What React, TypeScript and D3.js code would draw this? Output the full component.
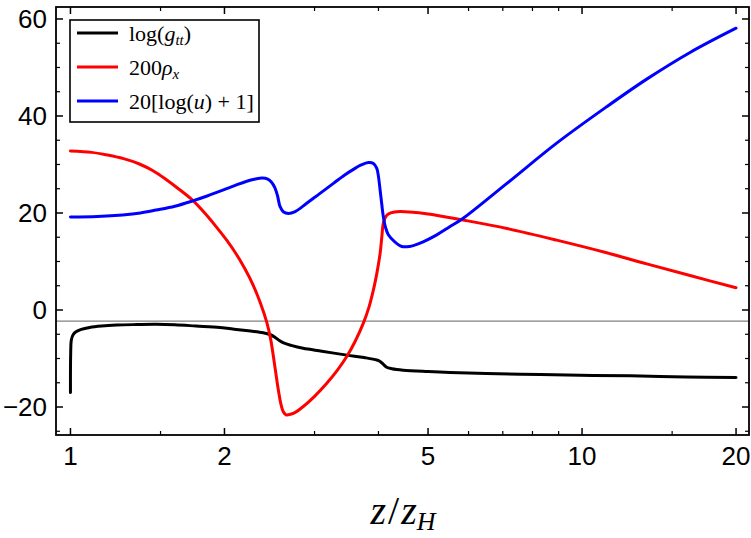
import React from "react";
import * as d3 from "d3";

// log(g_tt)
const gttZ = [1.0, 1.001, 1.004, 1.012, 1.025, 1.05, 1.09, 1.15, 1.23, 1.35, 1.47, 1.6, 1.76, 1.96, 2.11, 2.25, 2.38, 2.46, 2.51, 2.56, 2.61, 2.7, 2.85, 3.1, 3.47, 3.75, 3.97, 4.03, 4.09, 4.15, 4.25, 4.47, 5.0, 5.52, 6.5, 8.28, 10.5, 13, 16, 20];
const gttV = [-17.0, -9.0, -6.2, -5.1, -4.5, -4.0, -3.6, -3.3, -3.1, -3.0, -2.95, -3.05, -3.3, -3.6, -4.0, -4.35, -4.7, -5.1, -5.6, -6.3, -6.8, -7.3, -7.9, -8.5, -9.3, -9.8, -10.3, -10.6, -11.2, -11.8, -12.1, -12.4, -12.7, -12.9, -13.1, -13.3, -13.5, -13.6, -13.8, -13.9];

// 200 rho_x
const rhoZ = [1.0, 1.1, 1.174, 1.27, 1.364, 1.45, 1.538, 1.63, 1.734, 1.83, 1.926, 2.02, 2.107, 2.19, 2.272, 2.35, 2.419, 2.46, 2.493, 2.52, 2.549, 2.58, 2.607, 2.64, 2.667, 2.74, 2.852, 3.0, 3.17, 3.32, 3.468, 3.6, 3.737, 3.83, 3.909, 3.97, 4.03, 4.06, 4.089, 4.13, 4.182, 4.3, 4.41, 4.6, 5.0, 5.28, 5.82, 7.13, 8.92, 11.17, 13.38, 16.26, 20];
const rhoV = [32.8, 32.5, 32.0, 31.2, 30.1, 28.7, 26.9, 24.9, 22.6, 20.0, 17.2, 14.4, 11.6, 8.6, 5.3, 1.5, -2.5, -5.8, -9.6, -13.0, -16.5, -19.5, -21.0, -21.6, -21.6, -21.2, -19.9, -17.8, -15.1, -12.5, -9.6, -6.5, -2.7, 0.5, 4.1, 7.5, 11.7, 15.0, 17.9, 19.2, 19.8, 20.2, 20.3, 20.2, 19.8, 19.4, 18.6, 16.8, 14.4, 11.8, 9.5, 7.1, 4.6];

// 20[log(u)+1]
const uZ = [1.0, 1.13, 1.265, 1.37, 1.47, 1.6, 1.734, 1.85, 1.985, 2.1, 2.204, 2.3, 2.37, 2.43, 2.47, 2.51, 2.54, 2.569, 2.61, 2.667, 2.75, 2.896, 3.07, 3.266, 3.42, 3.573, 3.7, 3.823, 3.91, 3.97, 4.0, 4.03, 4.06, 4.089, 4.13, 4.182, 4.3, 4.442, 4.6, 4.825, 5.2, 5.52, 5.82, 7.13, 8.92, 11.17, 13.38, 16.26, 20];
const uV = [19.2, 19.3, 19.6, 20.0, 20.6, 21.4, 22.5, 23.5, 24.7, 25.7, 26.5, 27.0, 27.2, 27.0, 26.4, 25.2, 23.5, 21.3, 20.2, 19.9, 20.3, 22.0, 24.0, 26.1, 27.7, 29.0, 29.9, 30.4, 30.2, 29.2, 27.5, 24.7, 21.8, 19.2, 17.0, 15.5, 14.1, 13.1, 13.1, 13.8, 15.5, 17.2, 18.7, 26.1, 34.4, 41.9, 47.6, 53.1, 58.1];

const xMajor = [1, 2, 5, 10, 20];
const xMinor = [1.5, 3, 4, 6, 7, 8, 9, 15];
const yMajor = [-20, 0, 20, 40, 60];
const yMinor = [-25, -15, -10, -5, 5, 10, 15, 25, 30, 35, 45, 50, 55];
const refLine = -2.3;

const W = 751;
const H = 538;
const left = 56, right = 749, top = 7, bottom = 435;

const App: React.FC = () => {
  const x = d3.scaleLog().domain([0.937, 21.2]).range([left, right]);
  const y = d3.scaleLinear().domain([-25.77, 62.47]).range([bottom, top]);

  const line = d3
    .line<[number, number]>()
    .x((d) => x(d[0]))
    .y((d) => y(d[1]))
    .curve(d3.curveCatmullRom.alpha(0.5));

  const series = [
    { z: gttZ, v: gttV, color: "#000000" },
    { z: rhoZ, v: rhoV, color: "#ff0000" },
    { z: uZ, v: uV, color: "#0000ff" },
  ];

  const tickFont = "'Liberation Sans', Arial, sans-serif";
  const serif = "'Liberation Serif', 'Times New Roman', serif";

  return (
    <svg
      width={W}
      height={H}
      style={{ position: "absolute", left: 0, top: 0, background: "#fff" }}
    >
      <defs>
        <clipPath id="plot">
          <rect x={left} y={top} width={right - left} height={bottom - top} />
        </clipPath>
      </defs>

      {/* reference line */}
      <line x1={left} x2={right} y1={y(refLine)} y2={y(refLine)} stroke="#808080" strokeWidth={1.2} />

      {/* curves */}
      <g clipPath="url(#plot)">
        {series.map((s, i) => (
          <path
            key={i}
            d={line(s.z.map((z, j) => [z, s.v[j]] as [number, number])) || ""}
            fill="none"
            stroke={s.color}
            strokeWidth={3}
            strokeLinejoin="round"
            strokeLinecap="round"
          />
        ))}
      </g>

      {/* frame */}
      <rect x={left} y={top} width={right - left} height={bottom - top} fill="none" stroke="#000" strokeWidth={1.8} />

      {/* x ticks, bottom and top */}
      {xMajor.map((t) => (
        <g key={"xM" + t}>
          <line x1={x(t)} x2={x(t)} y1={bottom} y2={bottom - 7} stroke="#000" strokeWidth={1.5} />
          <line x1={x(t)} x2={x(t)} y1={top} y2={top + 7} stroke="#000" strokeWidth={1.5} />
          <text x={x(t)} y={465} textAnchor="middle" fontFamily={tickFont} fontSize={26}>
            {t}
          </text>
        </g>
      ))}
      {xMinor.map((t) => (
        <g key={"xm" + t}>
          <line x1={x(t)} x2={x(t)} y1={bottom} y2={bottom - 4} stroke="#000" strokeWidth={1.2} />
          <line x1={x(t)} x2={x(t)} y1={top} y2={top + 4} stroke="#000" strokeWidth={1.2} />
        </g>
      ))}

      {/* y ticks, left and right */}
      {yMajor.map((t) => (
        <g key={"yM" + t}>
          <line x1={left} x2={left + 7} y1={y(t)} y2={y(t)} stroke="#000" strokeWidth={1.5} />
          <line x1={right} x2={right - 7} y1={y(t)} y2={y(t)} stroke="#000" strokeWidth={1.5} />
          <text x={47} y={y(t)} dy="0.35em" textAnchor="end" fontFamily={tickFont} fontSize={26}>
            {t < 0 ? "\u2212" + Math.abs(t) : t}
          </text>
        </g>
      ))}
      {yMinor.map((t) => (
        <g key={"ym" + t}>
          <line x1={left} x2={left + 4} y1={y(t)} y2={y(t)} stroke="#000" strokeWidth={1.2} />
          <line x1={right} x2={right - 4} y1={y(t)} y2={y(t)} stroke="#000" strokeWidth={1.2} />
        </g>
      ))}

      {/* axis title */}
      <text x={403} y={524} textAnchor="middle" fontFamily={serif} fontSize={40} fontStyle="italic">
        z<tspan fontStyle="normal" dx={2}>/</tspan><tspan dx={2}>z</tspan>
        <tspan fontSize={26} dy={6}>H</tspan>
      </text>

      {/* legend */}
      <g>
        <rect x={70} y={20} width={189} height={102} fill="#fff" stroke="#000" strokeWidth={1.6} />
        {series.map((s, i) => (
          <line key={"lg" + i} x1={77} x2={118} y1={33 + i * 34} y2={33 + i * 34} stroke={s.color} strokeWidth={3} />
        ))}
        <text x={129} y={41} fontFamily={serif} fontSize={22}>
          log(<tspan fontStyle="italic">g</tspan>
          <tspan fontStyle="italic" fontSize={15} dy={4}>tt</tspan>
          <tspan dy={-4}>)</tspan>
        </text>
        <text x={129} y={75} fontFamily={serif} fontSize={22}>
          200<tspan fontStyle="italic">ρ</tspan>
          <tspan fontStyle="italic" fontSize={15} dy={4}>x</tspan>
        </text>
        <text x={129} y={109} fontFamily={serif} fontSize={22}>
          20[log(<tspan fontStyle="italic">u</tspan>) + 1]
        </text>
      </g>
    </svg>
  );
};

export default App;
